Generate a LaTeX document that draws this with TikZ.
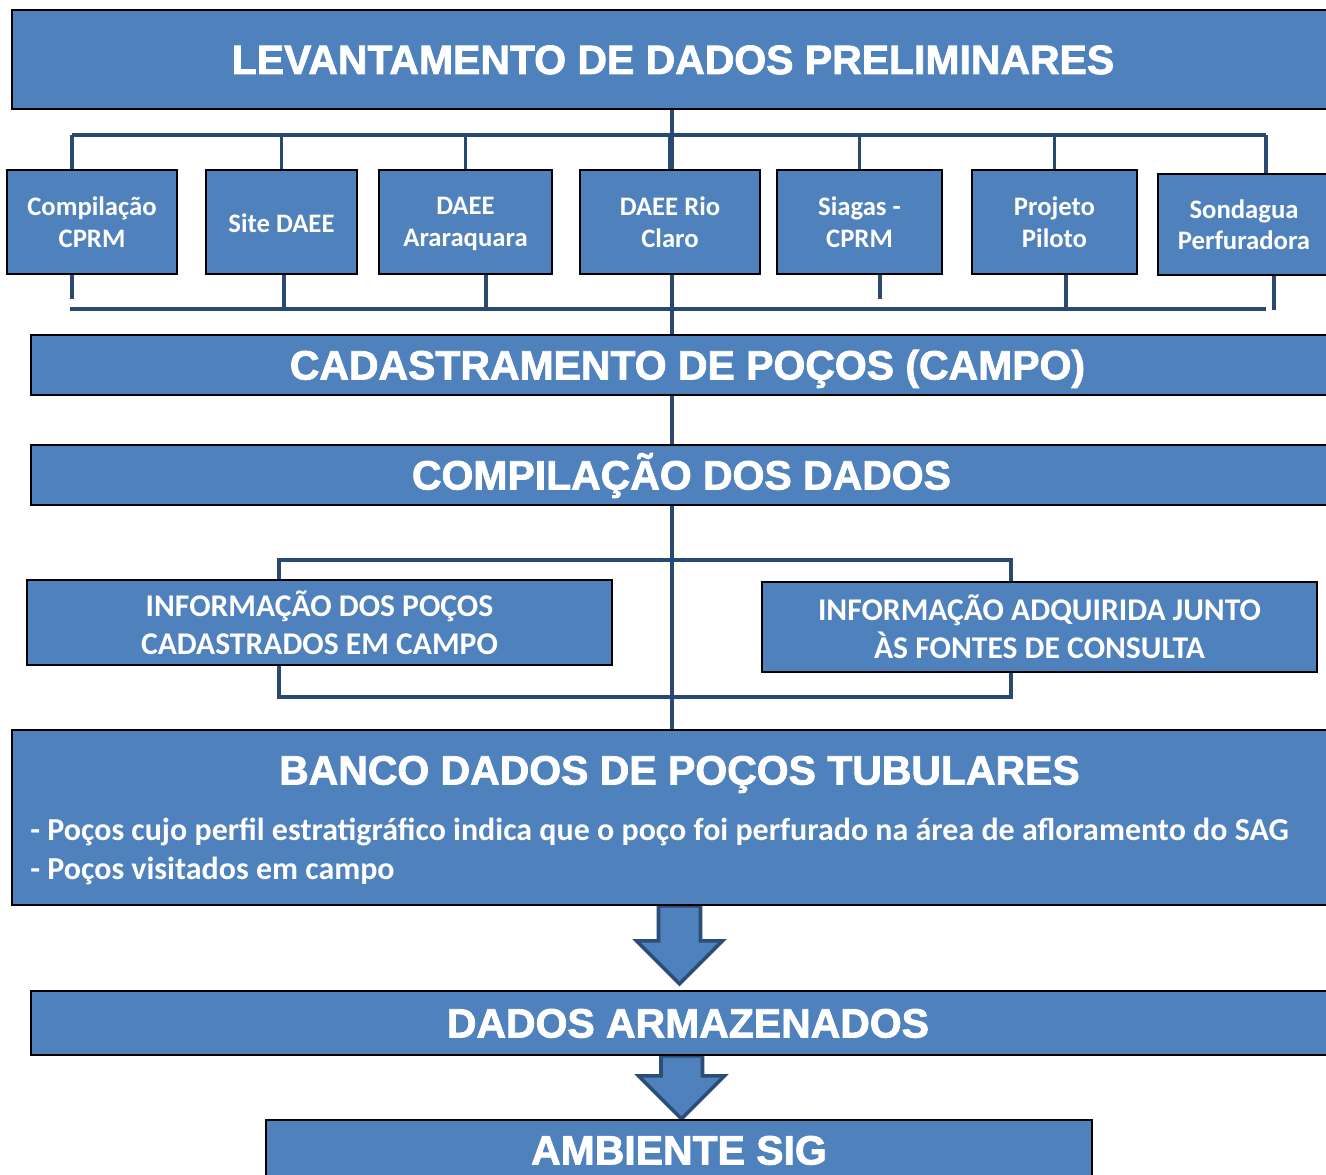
\documentclass[tikz,border=0pt]{standalone}
\usepackage{fontspec}
\setmainfont{Liberation Sans}
\newfontfamily\heavy[FakeBold=2]{Liberation Sans Bold}
\newfontfamily\carlito{Carlito}
\usetikzlibrary{calc,backgrounds}
\definecolor{boxblue}{HTML}{4F81BD}
\definecolor{linkblue}{HTML}{294A70}
\definecolor{arrowblue}{HTML}{2C4D75}

\begin{document}
\begin{tikzpicture}[x=0.02cm, y=-0.02cm,
  box/.style={draw=black, line width=1.1pt, fill=boxblue, text=white, inner sep=0pt},
  hdr/.style={box, text height=16.5pt, text depth=0pt, font=\heavy\fontsize{23.3}{26}\selectfont},
  src/.style={box, minimum height=2.08cm, align=center, text depth=0pt, execute at begin node=\rule{0pt}{12pt}, font=\carlito\bfseries\fontsize{15.2}{18}\selectfont},
  info/.style={box, align=center, font=\carlito\bfseries\fontsize{18}{21.5}\selectfont},
  bullet/.style={text=white, anchor=base west, inner sep=0pt, font=\carlito\bfseries\fontsize{18.2}{21}\selectfont},
  link/.style={linkblue, line width=2.2pt},
  blk/.style={draw=arrowblue, fill=boxblue, line width=2pt, line join=miter}]

\useasboundingbox (0,0) rectangle (1326,1175);
\clip (0,0) rectangle (1326,1175);

% main steps
\node[hdr, minimum width=26.44cm, minimum height=1.98cm] (lev) at (673,59.5) {LEVANTAMENTO DE DADOS PRELIMINARES};
\node[hdr, minimum width=26.26cm, minimum height=1.2cm] (cad) at (687.5,365) {CADASTRAMENTO DE POÇOS (CAMPO)};
\node[hdr, minimum width=26.02cm, minimum height=1.2cm] (comp) at (681.5,475) {COMPILAÇÃO DOS DADOS};
\node[box, minimum width=26.7cm, minimum height=3.5cm] (banco) at (679.5,817.5) {};
\node[hdr, draw=none, fill=none] (bancot) at (679.5,770) {BANCO DADOS DE POÇOS TUBULARES};
\node[bullet] (bul1) at (30,840) {- Poços cujo perfil estratigráfico indica que o poço foi perfurado na área de afloramento do SAG};
\node[bullet] (bul2) at (30,879) {- Poços visitados em campo};
\node[hdr, minimum width=26.28cm, minimum height=1.28cm] (arm) at (688,1023) {DADOS ARMAZENADOS};
\node[hdr, minimum width=16.52cm, minimum height=1.2cm] (sig) at (679,1150) {AMBIENTE SIG};

% sources
\node[src, minimum width=3.4cm] (cprm) at (92,222) {Compilação\\CPRM};
\node[src, minimum width=3.02cm] (site) at (281.5,222) {Site DAEE};
\node[src, minimum width=3.46cm] (arar) at (465.5,222) {DAEE\\Araraquara};
\node[src, minimum width=3.6cm] (rio) at (670,222) {DAEE Rio\\Claro};
\node[src, minimum width=3.3cm] (siagas) at (859.5,222) {Siagas -\\CPRM};
\node[src, minimum width=3.3cm] (piloto) at (1054.5,222) {Projeto\\Piloto};
\node[src, minimum width=3.44cm, minimum height=2.02cm] (sond) at (1244,224.5) {Sondagua\\Perfuradora};

% information
\node[info, minimum width=11.7cm, minimum height=1.7cm] (infoc) at (319.5,622.5) {INFORMAÇÃO DOS POÇOS\\CADASTRADOS EM CAMPO};
\node[info, minimum width=11.1cm, minimum height=1.8cm] (infof) at (1039.5,627) {INFORMAÇÃO ADQUIRIDA JUNTO\\ÀS FONTES DE CONSULTA};

\begin{pgfonlayer}{background}
\coordinate (spine) at (672,0);
\coordinate (busT1) at (72,135); \coordinate (busT2) at (1266,135);
\coordinate (busB1) at (70,309); \coordinate (busB2) at (1266,309);
\coordinate (brk1) at (279,560); \coordinate (brk2) at (1011,697);
\draw[link] (spine |- lev.south) -- (spine |- cad.north); % spine
\draw[link] (spine |- cad.south) -- (spine |- comp.north);
\draw[link] (spine |- comp.south) -- (spine |- banco.north);
\draw[link] (busT1) -- (busT2); % top bus
\draw[link] (busT1) -- (busT1 |- cprm.north);
\foreach \s in {site,arar,rio,siagas,piloto} \draw[link] (\s.north) -- (\s.north |- busT1);
\draw[link] (busT2) -- (busT2 |- sond.north);
\draw[link] (busB1) -- (busB2); % bottom bus
\draw[link] ($(cprm.south)+(-20,0)$) -- ++(0,24);
\draw[link] ($(site.south)+(2.5,0)$) |- (busB1);
\draw[link] ($(arar.south)+(20.5,0)$) |- (busB1);
\draw[link] ($(siagas.south)+(20.5,0)$) -- ++(0,24);
\draw[link] ($(piloto.south)+(11.5,0)$) |- (busB1);
\draw[link] ($(sond.south)+(30,0)$) -- ++(0,34);
\draw[link] (brk1) rectangle (brk2); % bracket round the two information boxes
% block arrows
\draw[blk] ($(banco.south)+(-21,0)$) -- ++(0,35) -- ++(-22,0) -- ($(banco.south)+(0,78)$) -- ++(43,-43) -- ++(-22,0) -- ++(0,-35) -- cycle;
\draw[blk] ($(arm.south)+(-27,0)$) -- ++(0,20) -- ++(-22.5,0) -- ($(arm.south)+(-6.5,63)$) -- ++(43,-43) -- ++(-22,0) -- ++(0,-20) -- cycle;
\end{pgfonlayer}
\end{tikzpicture}
\end{document}
